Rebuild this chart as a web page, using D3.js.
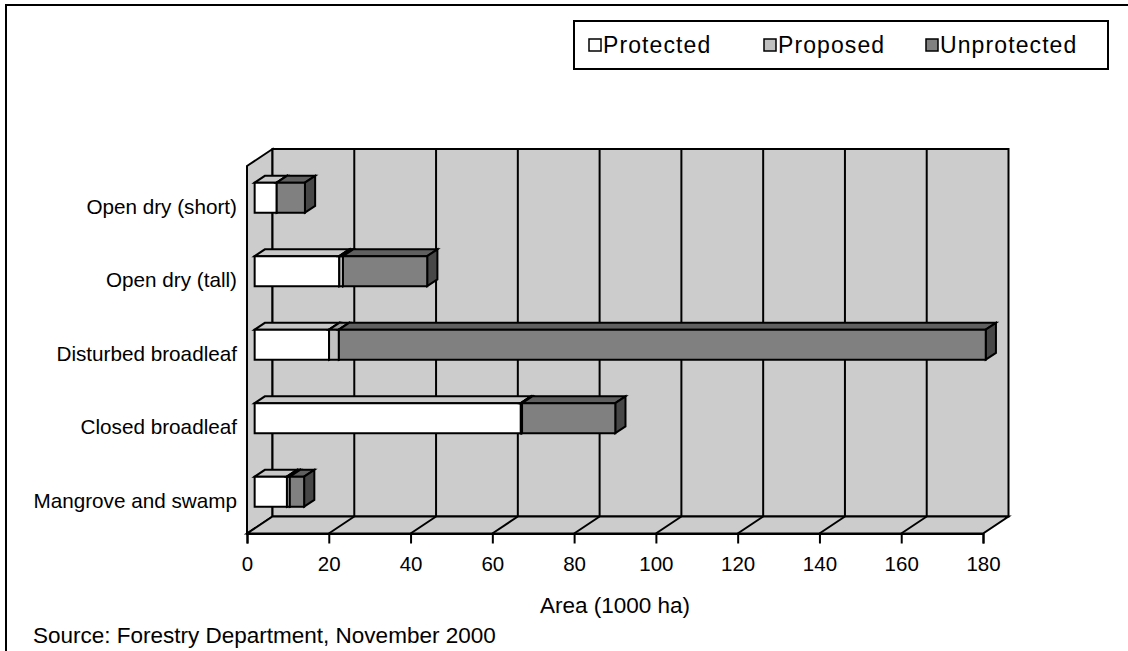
<!DOCTYPE html>
<html>
<head>
<meta charset="utf-8">
<script src="https://cdn.jsdelivr.net/npm/d3@7"></script>
<style>
  html, body { margin: 0; padding: 0; background: #ffffff; }
  svg { display: block; }
  text { font-family: "Liberation Sans", Arial, Helvetica, sans-serif; fill: #000; }
</style>
</head>
<body>
<svg id="chart" width="1128" height="651"></svg>
<script>
// Forest area by type and protection status (1000 ha)
const categories = [
  "Open dry (short)",
  "Open dry (tall)",
  "Disturbed broadleaf",
  "Closed broadleaf",
  "Mangrove and swamp"
];
const protectedArea   = [5.4, 20.7, 18.2, 65.1, 7.9];
const proposedArea    = [0.0, 0.9, 2.4, 0.3, 0.7];
const unprotectedArea = [6.9, 20.6, 158.2, 22.8, 3.5];

const seriesNames = ["Protected", "Proposed", "Unprotected"];
const xTickValues = [0, 20, 40, 60, 80, 100, 120, 140, 160, 180];
const axisTitle = "Area (1000 ha)";
const sourceNote = "Source: Forestry Department, November 2000";

// Face shades per series: front, top, right side
const shades = [
  { front: "#ffffff", top: "#c8c8c8", side: "#a0a0a0" },
  { front: "#c0c0c0", top: "#a0a0a0", side: "#808080" },
  { front: "#808080", top: "#606060", side: "#474747" }
];

const svg = d3.select("#chart");

// Outer frame
svg.append("rect")
  .attr("x", 6).attr("y", 5).attr("width", 1140).attr("height", 680)
  .attr("fill", "none").attr("stroke", "#000").attr("stroke-width", 2);

// Front plane of the 3D box and its depth offset
const frontTop = 166, frontBottom = 533.5;
const DX = 25.5, DY = -17;

const x = d3.scaleLinear().domain([0, 180]).range([247, 983]);
const y = d3.scaleBand().domain(categories).range([frontTop, frontBottom]);

// Project a point given a data value, a front-plane pixel y and a depth fraction
const P = (v, py, z) => [x(v) + z * DX, py + z * DY];
const poly = pts => pts.map(p => p.join(",")).join(" ");

const wallFill = "#cccccc";
const edge = { stroke: "#000", "stroke-width": 2, "stroke-linejoin": "miter" };
const applyAttrs = (sel, obj) => { Object.entries(obj).forEach(([k, v]) => sel.attr(k, v)); return sel; };

const walls = svg.append("g");
const xMax = 180;

// Side wall (left)
applyAttrs(walls.append("polygon")
  .attr("points", poly([P(0, frontTop, 0), P(0, frontTop, 1), P(0, frontBottom, 1), P(0, frontBottom, 0)]))
  .attr("fill", wallFill), edge);

// Back wall
applyAttrs(walls.append("polygon")
  .attr("points", poly([P(0, frontTop, 1), P(xMax, frontTop, 1), P(xMax, frontBottom, 1), P(0, frontBottom, 1)]))
  .attr("fill", wallFill), edge);

// Floor
applyAttrs(walls.append("polygon")
  .attr("points", poly([P(0, frontBottom, 0), P(0, frontBottom, 1), P(xMax, frontBottom, 1), P(xMax, frontBottom, 0)]))
  .attr("fill", wallFill), edge);

// Gridlines on the back wall and across the floor
const inner = xTickValues.filter(v => v > 0 && v < xMax);
walls.selectAll("line.gridBack").data(inner).join("line")
  .attr("class", "gridBack")
  .attr("x1", d => P(d, frontTop, 1)[0]).attr("y1", d => P(d, frontTop, 1)[1])
  .attr("x2", d => P(d, frontBottom, 1)[0]).attr("y2", d => P(d, frontBottom, 1)[1])
  .attr("stroke", "#000").attr("stroke-width", 2);
walls.selectAll("line.gridFloor").data(inner).join("line")
  .attr("class", "gridFloor")
  .attr("x1", d => P(d, frontBottom, 0)[0]).attr("y1", d => P(d, frontBottom, 0)[1])
  .attr("x2", d => P(d, frontBottom, 1)[0]).attr("y2", d => P(d, frontBottom, 1)[1])
  .attr("stroke", "#000").attr("stroke-width", 2);

// X axis along the front edge of the floor
const xAxis = d3.axisBottom(x).tickValues(xTickValues).tickSize(10).tickPadding(13);
const axisG = svg.append("g")
  .attr("transform", `translate(0,${frontBottom})`)
  .call(xAxis);
axisG.select(".domain").attr("stroke", "#000").attr("stroke-width", 2);
axisG.selectAll(".tick line").attr("stroke", "#000").attr("stroke-width", 2);
axisG.selectAll(".tick text")
  .attr("font-size", 20.5)
  .style("font-family", '"Liberation Sans", Arial, sans-serif')
  .attr("fill", "#000");

// Axis title and source note
svg.append("text")
  .attr("x", (x(0) + x(xMax)) / 2).attr("y", 613)
  .attr("text-anchor", "middle").attr("font-size", 22.5)
  .text(axisTitle);
svg.append("text")
  .attr("x", 33).attr("y", 643)
  .attr("font-size", 22.5)
  .text(sourceNote);

// Category labels
svg.selectAll("text.cat").data(categories).join("text")
  .attr("class", "cat")
  .attr("x", 237)
  .attr("y", d => y(d) + y.bandwidth() / 2 + 11)
  .attr("text-anchor", "end")
  .attr("font-size", 20.7)
  .text(d => d);

// Stacked 3D bars
const z0 = 0.3, z1 = 0.7;
const barH = 30;
const stackRows = categories.map((c, i) => {
  const vals = [protectedArea[i], proposedArea[i], unprotectedArea[i]];
  let acc = 0;
  return vals.map((v, s) => {
    const seg = { cat: c, series: s, start: acc, end: acc + v };
    acc += v;
    return seg;
  }).filter(seg => seg.end > seg.start);
});

const bars = svg.append("g");
stackRows.forEach(row => {
  row.forEach(seg => {
    const cy = y(seg.cat) + y.bandwidth() / 2;
    const top = cy - barH / 2, bot = cy + barH / 2;
    const sh = shades[seg.series];
    const g = bars.append("g");
    // top face
    applyAttrs(g.append("polygon")
      .attr("points", poly([P(seg.start, top, z0), P(seg.start, top, z1), P(seg.end, top, z1), P(seg.end, top, z0)]))
      .attr("fill", sh.top), edge);
    // right side face
    applyAttrs(g.append("polygon")
      .attr("points", poly([P(seg.end, top, z0), P(seg.end, top, z1), P(seg.end, bot, z1), P(seg.end, bot, z0)]))
      .attr("fill", sh.side), edge);
    // front face
    applyAttrs(g.append("polygon")
      .attr("points", poly([P(seg.start, top, z0), P(seg.end, top, z0), P(seg.end, bot, z0), P(seg.start, bot, z0)]))
      .attr("fill", sh.front), edge);
  });
});

// Legend
const legend = svg.append("g");
legend.append("rect")
  .attr("x", 574).attr("y", 21).attr("width", 534).attr("height", 48)
  .attr("fill", "#fff").attr("stroke", "#000").attr("stroke-width", 2);
const legendX = [589, 764, 926];
const item = legend.selectAll("g.item").data(seriesNames).join("g")
  .attr("class", "item")
  .attr("transform", (d, i) => `translate(${legendX[i]},45)`);
item.append("rect")
  .attr("x", 0).attr("y", -6).attr("width", 12).attr("height", 12)
  .attr("fill", (d, i) => shades[i].front)
  .attr("stroke", "#000").attr("stroke-width", 1.5);
item.append("text")
  .attr("x", 14).attr("y", 8)
  .attr("font-size", 23)
  .attr("letter-spacing", 1.1)
  .text(d => d);
</script>
</body>
</html>
